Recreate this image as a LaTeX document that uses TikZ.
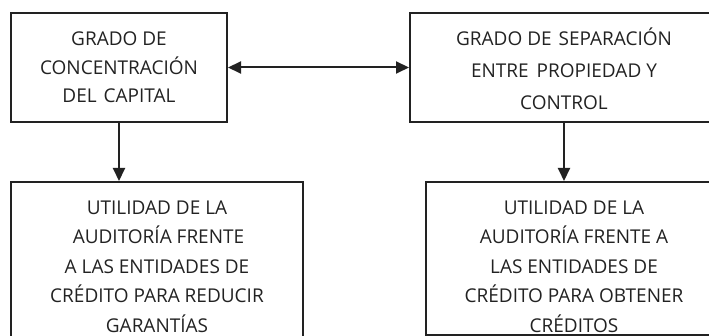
\documentclass[tikz,border=0pt]{standalone}
\usepackage{fontspec}
\setmainfont{Open Sans}
\usetikzlibrary{arrows.meta}
\definecolor{ink}{HTML}{222222}
\tikzset{
  box/.style={draw=ink, line width=2pt, rectangle, inner sep=0pt},
  txt/.style={text=ink, align=center, inner sep=0pt, font=\fontsize{19}{29.5}\selectfont},
  tip/.style={Triangle[length=13pt,width=12pt]},
  conn/.style={draw=ink, line width=2pt, -{Triangle[length=13pt,width=12pt]}},
  conn2/.style={draw=ink, line width=2pt, {Triangle[length=13pt,width=12pt]}-{Triangle[length=13pt,width=12pt]}}
}
\begin{document}
\begin{tikzpicture}[x=1pt,y=-1pt]
\useasboundingbox (0,0) rectangle (709,336);
\clip (0,0) rectangle (709,336);
\node[box, minimum width=216pt, minimum height=109pt] (b1) at (119,67.5) {};
\node[box, minimum width=308pt, minimum height=109pt] (b2) at (564,67.5) {};
\node[box, minimum width=292pt, minimum height=170pt] (b3) at (157,267) {};
\node[box, minimum width=296pt, minimum height=153.5pt] (b4) at (574,258.75) {};
\node[txt, font=\fontsize{19}{28.5}\selectfont] (t1) at (b1.center) {GRADO DE\\CONCENTRACIÓN\\DEL\hspace{2pt} CAPITAL};
\node[txt, font=\fontsize{19}{32}\selectfont] (t2) at (564,68.5) {GRADO DE\hspace{2pt} SEPARACIÓN\\ENTRE\hspace{3pt} PROPIEDAD Y\\CONTROL};
\node[txt] (t3) at (157,266.5) {UTILIDAD DE LA\\\hspace{3pt}AUDITORÍA FRENTE\\A LAS ENTIDADES DE\\CRÉDITO PARA REDUCIR\\GARANTÍAS};
\node[txt] (t4) at (574,266.5) {UTILIDAD DE LA\\AUDITORÍA FRENTE A\\LAS ENTIDADES DE\\CRÉDITO PARA OBTENER\\CRÉDITOS};
\draw[conn2] (b1.east) -- (b2.west);
\draw[conn] (b1.south) -- (b1.south |- b3.north);
\draw[conn] (b2.south) -- (b2.south |- b4.north);
\end{tikzpicture}
\end{document}
